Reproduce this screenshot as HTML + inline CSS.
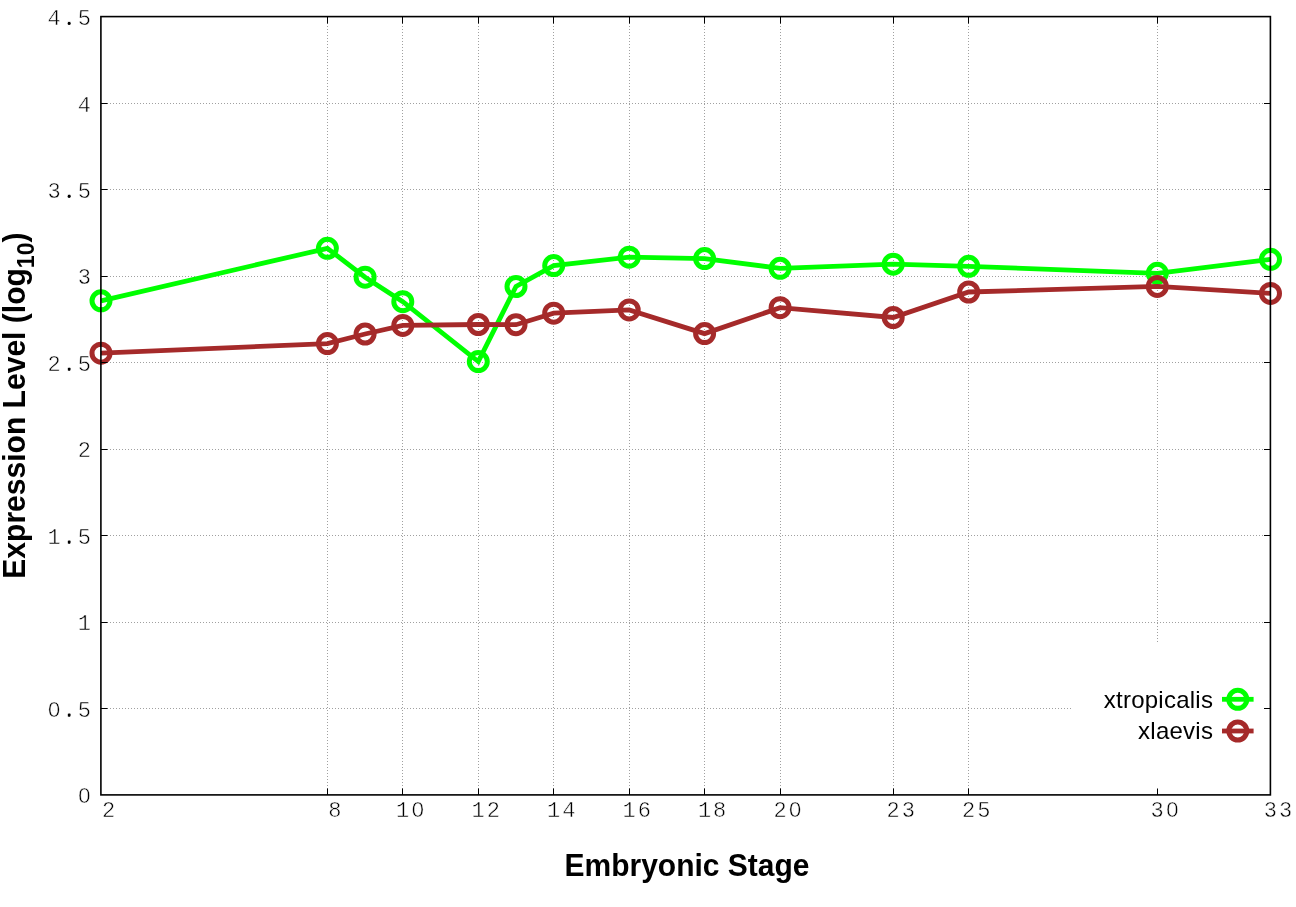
<!DOCTYPE html><html><head><meta charset="utf-8"><style>html,body{margin:0;padding:0;background:#fff;}svg{display:block;will-change:transform;}</style></head><body>
<svg width="1296" height="907" viewBox="0 0 1296 907">
<rect x="0" y="0" width="1296" height="907" fill="#fff"/>
<g stroke="#a0a0a0" stroke-width="1" stroke-dasharray="1 2" fill="none"><line x1="101" y1="708.5" x2="1270" y2="708.5"/><line x1="101" y1="622.5" x2="1270" y2="622.5"/><line x1="101" y1="535.5" x2="1270" y2="535.5"/><line x1="101" y1="449.5" x2="1270" y2="449.5"/><line x1="101" y1="362.5" x2="1270" y2="362.5"/><line x1="101" y1="276.5" x2="1270" y2="276.5"/><line x1="101" y1="189.5" x2="1270" y2="189.5"/><line x1="101" y1="103.5" x2="1270" y2="103.5"/><line x1="327.5" y1="17" x2="327.5" y2="795"/><line x1="402.5" y1="17" x2="402.5" y2="795"/><line x1="478.5" y1="17" x2="478.5" y2="795"/><line x1="553.5" y1="17" x2="553.5" y2="795"/><line x1="629.5" y1="17" x2="629.5" y2="795"/><line x1="704.5" y1="17" x2="704.5" y2="795"/><line x1="780.5" y1="17" x2="780.5" y2="795"/><line x1="893.5" y1="17" x2="893.5" y2="795"/><line x1="968.5" y1="17" x2="968.5" y2="795"/><line x1="1157.5" y1="17" x2="1157.5" y2="795"/></g>
<polyline points="101.0,300.8 327.4,248.3 365.1,277.2 402.8,301.7 478.3,361.6 516.0,286.5 553.7,265.6 629.2,257.2 704.6,258.6 780.1,268.3 893.2,264.2 968.7,266.3 1157.3,273.3 1270.5,259.3" fill="none" stroke="#00ff00" stroke-width="4.8" stroke-linejoin="miter"/><g fill="none" stroke="#00ff00" stroke-width="5.0"><circle cx="101.0" cy="300.8" r="9.0"/><circle cx="327.4" cy="248.3" r="9.0"/><circle cx="365.1" cy="277.2" r="9.0"/><circle cx="402.8" cy="301.7" r="9.0"/><circle cx="478.3" cy="361.6" r="9.0"/><circle cx="516.0" cy="286.5" r="9.0"/><circle cx="553.7" cy="265.6" r="9.0"/><circle cx="629.2" cy="257.2" r="9.0"/><circle cx="704.6" cy="258.6" r="9.0"/><circle cx="780.1" cy="268.3" r="9.0"/><circle cx="893.2" cy="264.2" r="9.0"/><circle cx="968.7" cy="266.3" r="9.0"/><circle cx="1157.3" cy="273.3" r="9.0"/><circle cx="1270.5" cy="259.3" r="9.0"/></g>
<polyline points="101.0,353.2 327.4,343.6 365.1,334.0 402.8,325.4 478.3,324.5 516.0,324.7 553.7,313.2 629.2,309.9 704.6,333.6 780.1,307.7 893.2,317.5 968.7,292.0 1157.3,286.4 1270.5,293.4" fill="none" stroke="#a52a2a" stroke-width="4.8" stroke-linejoin="miter"/><g fill="none" stroke="#a52a2a" stroke-width="5.0"><circle cx="101.0" cy="353.2" r="9.0"/><circle cx="327.4" cy="343.6" r="9.0"/><circle cx="365.1" cy="334.0" r="9.0"/><circle cx="402.8" cy="325.4" r="9.0"/><circle cx="478.3" cy="324.5" r="9.0"/><circle cx="516.0" cy="324.7" r="9.0"/><circle cx="553.7" cy="313.2" r="9.0"/><circle cx="629.2" cy="309.9" r="9.0"/><circle cx="704.6" cy="333.6" r="9.0"/><circle cx="780.1" cy="307.7" r="9.0"/><circle cx="893.2" cy="317.5" r="9.0"/><circle cx="968.7" cy="292.0" r="9.0"/><circle cx="1157.3" cy="286.4" r="9.0"/><circle cx="1270.5" cy="293.4" r="9.0"/></g>
<rect x="1072" y="642" width="198" height="152" fill="#fff"/>
<g font-family="'Liberation Sans', sans-serif" font-size="24" text-anchor="end" fill="#000">
<text x="1213.2" y="707.6" letter-spacing="0.25">xtropicalis</text><text x="1213.2" y="738.6" letter-spacing="0.25">xlaevis</text></g>
<line x1="1222" y1="699.3" x2="1253.6" y2="699.3" stroke="#00ff00" stroke-width="4.8"/>
<circle cx="1237.8" cy="699.3" r="9.0" fill="none" stroke="#00ff00" stroke-width="5.0"/>
<line x1="1222" y1="731.0" x2="1253.6" y2="731.0" stroke="#a52a2a" stroke-width="4.8"/>
<circle cx="1237.8" cy="731.0" r="9.0" fill="none" stroke="#a52a2a" stroke-width="5.0"/>
<g stroke="#000" stroke-width="1"><line x1="101" y1="708.5" x2="107.5" y2="708.5"/><line x1="1264.0" y1="708.5" x2="1270.5" y2="708.5"/><line x1="101" y1="622.5" x2="107.5" y2="622.5"/><line x1="1264.0" y1="622.5" x2="1270.5" y2="622.5"/><line x1="101" y1="535.5" x2="107.5" y2="535.5"/><line x1="1264.0" y1="535.5" x2="1270.5" y2="535.5"/><line x1="101" y1="449.5" x2="107.5" y2="449.5"/><line x1="1264.0" y1="449.5" x2="1270.5" y2="449.5"/><line x1="101" y1="362.5" x2="107.5" y2="362.5"/><line x1="1264.0" y1="362.5" x2="1270.5" y2="362.5"/><line x1="101" y1="276.5" x2="107.5" y2="276.5"/><line x1="1264.0" y1="276.5" x2="1270.5" y2="276.5"/><line x1="101" y1="189.5" x2="107.5" y2="189.5"/><line x1="1264.0" y1="189.5" x2="1270.5" y2="189.5"/><line x1="101" y1="103.5" x2="107.5" y2="103.5"/><line x1="1264.0" y1="103.5" x2="1270.5" y2="103.5"/><line x1="327.5" y1="795" x2="327.5" y2="788.5"/><line x1="327.5" y1="17" x2="327.5" y2="23.5"/><line x1="402.5" y1="795" x2="402.5" y2="788.5"/><line x1="402.5" y1="17" x2="402.5" y2="23.5"/><line x1="478.5" y1="795" x2="478.5" y2="788.5"/><line x1="478.5" y1="17" x2="478.5" y2="23.5"/><line x1="553.5" y1="795" x2="553.5" y2="788.5"/><line x1="553.5" y1="17" x2="553.5" y2="23.5"/><line x1="629.5" y1="795" x2="629.5" y2="788.5"/><line x1="629.5" y1="17" x2="629.5" y2="23.5"/><line x1="704.5" y1="795" x2="704.5" y2="788.5"/><line x1="704.5" y1="17" x2="704.5" y2="23.5"/><line x1="780.5" y1="795" x2="780.5" y2="788.5"/><line x1="780.5" y1="17" x2="780.5" y2="23.5"/><line x1="893.5" y1="795" x2="893.5" y2="788.5"/><line x1="893.5" y1="17" x2="893.5" y2="23.5"/><line x1="968.5" y1="795" x2="968.5" y2="788.5"/><line x1="968.5" y1="17" x2="968.5" y2="23.5"/><line x1="1157.5" y1="795" x2="1157.5" y2="788.5"/><line x1="1157.5" y1="17" x2="1157.5" y2="23.5"/></g>
<rect x="100.9" y="16.6" width="1169.5" height="778.3" fill="none" stroke="#000" stroke-width="1.6"/>
<g font-family="'Liberation Mono', monospace" font-size="22" letter-spacing="2.0" fill="#000" stroke="#fff" stroke-width="0.5">
<text x="93.0" y="803.0" text-anchor="end">0</text>
<text x="93.0" y="716.6" text-anchor="end">0.5</text>
<text x="93.0" y="630.1" text-anchor="end">1</text>
<text x="93.0" y="543.7" text-anchor="end">1.5</text>
<text x="93.0" y="457.2" text-anchor="end">2</text>
<text x="93.0" y="370.8" text-anchor="end">2.5</text>
<text x="93.0" y="284.4" text-anchor="end">3</text>
<text x="93.0" y="197.9" text-anchor="end">3.5</text>
<text x="93.0" y="111.5" text-anchor="end">4</text>
<text x="93.0" y="25.1" text-anchor="end">4.5</text>
<text x="109.5" y="817" text-anchor="middle">2</text>
<text x="335.9" y="817" text-anchor="middle">8</text>
<text x="411.3" y="817" text-anchor="middle">10</text>
<text x="486.8" y="817" text-anchor="middle">12</text>
<text x="562.2" y="817" text-anchor="middle">14</text>
<text x="637.7" y="817" text-anchor="middle">16</text>
<text x="713.1" y="817" text-anchor="middle">18</text>
<text x="788.6" y="817" text-anchor="middle">20</text>
<text x="901.7" y="817" text-anchor="middle">23</text>
<text x="977.2" y="817" text-anchor="middle">25</text>
<text x="1165.8" y="817" text-anchor="middle">30</text>
<text x="1279.0" y="817" text-anchor="middle">33</text>
</g>
<g fill="#fff"><circle cx="84.5" cy="795.3" r="2.1"/><circle cx="54.2" cy="709.1" r="2.1"/><circle cx="418.0" cy="809.4" r="2.1"/><circle cx="795.3" cy="809.4" r="2.1"/><circle cx="1172.5" cy="809.4" r="2.1"/></g>
<g fill="#000"><circle cx="69.2" cy="714.9" r="1.45"/><circle cx="69.2" cy="542.0" r="1.45"/><circle cx="69.2" cy="369.1" r="1.45"/><circle cx="69.2" cy="196.2" r="1.45"/><circle cx="69.2" cy="23.4" r="1.45"/></g>
<text transform="translate(687,876) scale(0.958,1)" font-family="'Liberation Sans', sans-serif" font-weight="bold" font-size="31.3" text-anchor="middle">Embryonic Stage</text>
<text transform="translate(25,405.6) rotate(-90) scale(0.96,1)" font-family="'Liberation Sans', sans-serif" font-weight="bold" font-size="31.3" text-anchor="middle">Expression Level (log<tspan font-size="24" dy="8.6">10</tspan><tspan dy="-8.6">)</tspan></text>
</svg></body></html>
